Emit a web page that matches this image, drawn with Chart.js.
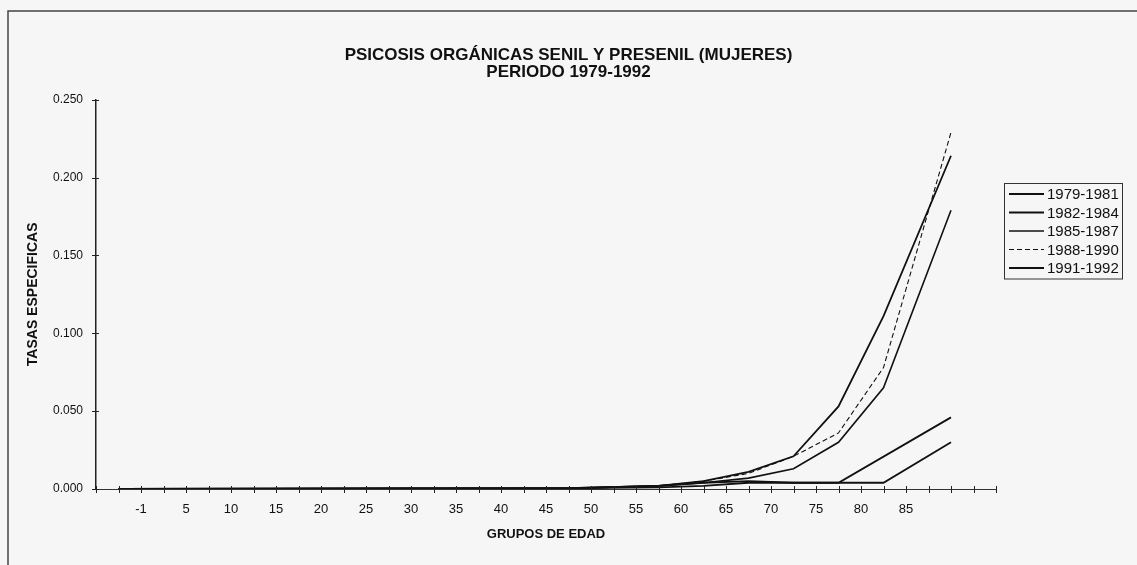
<!DOCTYPE html>
<html>
<head>
<meta charset="utf-8">
<script src="https://cdn.jsdelivr.net/npm/chart.js@4.4.0/dist/chart.umd.min.js"></script>
<style>
  html, body { margin: 0; padding: 0; background: #f6f6f6; }
  #wrap { width: 1137px; height: 565px; position: relative; }
</style>
</head>
<body>
<div id="wrap"><canvas id="chart"></canvas></div>
<script>
// age groups, one label every second category slot
const categories = ['', '', '-1', '', '5', '', '10', '', '15', '', '20', '', '25', '', '30', '', '35', '', '40', '', '45',
  '', '50', '', '55', '', '60', '', '65', '', '70', '', '75', '', '80', '', '85', '', '', '', ''];

const periods = ['1979-1981', '1982-1984', '1985-1987', '1988-1990', '1991-1992'];

const rates7981 = [null, 0, null, null, null, null, null, null, null, null, null, null, null, null, null, null, null, null, null, null, null,
  0.0005, null, null, null, 0.001, null, 0.002, null, 0.004, null, 0.004, null, 0.004, null, 0.004, null, null, 0.030, null, null];
const rates8284 = [null, 0, null, null, null, null, null, null, null, null, null, null, null, null, null, null, null, null, null, null, null,
  0.0005, null, null, null, 0.002, null, 0.004, null, 0.005, null, 0.004, null, 0.004, null, null, null, null, 0.046, null, null];
const rates8587 = [null, 0, null, null, null, null, null, null, null, null, null, null, null, null, null, null, null, null, null, null, null,
  0.0005, null, null, null, 0.002, null, 0.004, null, 0.007, null, 0.013, null, 0.030, null, 0.065, null, null, 0.179, null, null];
const rates8890 = [null, 0, null, null, null, null, null, null, null, null, null, null, null, null, null, null, null, null, null, null, null,
  0.0005, null, null, null, 0.002, null, 0.005, null, 0.010, null, 0.021, null, 0.036, null, 0.078, null, null, 0.229, null, null];
const rates9192 = [null, 0, null, null, null, null, null, null, null, null, null, null, null, null, null, null, null, null, null, null, null,
  0.0005, null, null, null, 0.002, null, 0.005, null, 0.011, null, 0.021, null, 0.053, null, 0.111, null, null, 0.214, null, null];

const yTicks = [0, 0.05, 0.10, 0.15, 0.20, 0.25];

const FONT = '"Liberation Sans", Arial, sans-serif';
const INK = '#111';

const series = [rates7981, rates8284, rates8587, rates8890, rates9192];
const dashes = [[], [], [], [5, 3], []];
const widths = [1.8, 1.8, 1.6, 1.1, 1.8];

const datasets = series.map((values, i) => ({
  label: periods[i],
  data: values,
  borderColor: INK,
  borderWidth: widths[i],
  borderDash: dashes[i],
  pointRadius: 0,
  tension: 0,
  spanGaps: true,
  fill: false
}));

// page background and the outer frame of the chart
const frame = {
  id: 'frame',
  beforeDraw(chart) {
    const ctx = chart.ctx;
    ctx.save();
    ctx.fillStyle = '#f6f6f6';
    ctx.fillRect(0, 0, chart.width, chart.height);
    ctx.strokeStyle = '#444';
    ctx.lineWidth = 1.5;
    ctx.beginPath();
    ctx.moveTo(8, chart.height);
    ctx.lineTo(8, 11);
    ctx.lineTo(chart.width, 11);
    ctx.stroke();
    ctx.restore();
  }
};

// tick marks that cross both axes
const crossTicks = {
  id: 'crossTicks',
  afterDraw(chart) {
    const ctx = chart.ctx;
    const x = chart.scales.x, y = chart.scales.y;
    ctx.save();
    ctx.strokeStyle = '#222';
    ctx.lineWidth = 1;
    ctx.beginPath();
    x.ticks.forEach((t, i) => {
      const px = Math.round(x.getPixelForTick(i)) + 0.5;
      ctx.moveTo(px, x.top - 3);
      ctx.lineTo(px, x.top + 4);
    });
    y.ticks.forEach((t, i) => {
      const py = Math.round(y.getPixelForTick(i)) + 0.5;
      ctx.moveTo(y.right - 4, py);
      ctx.lineTo(y.right + 3, py);
    });
    ctx.stroke();
    ctx.restore();
  }
};

// boxed legend beside the plot
const boxLegend = {
  id: 'boxLegend',
  afterDraw(chart) {
    const ctx = chart.ctx;
    const left = 1004, top = 183, rowH = 18.5;
    const n = chart.data.datasets.length;
    ctx.save();
    ctx.strokeStyle = '#333';
    ctx.lineWidth = 1;
    ctx.strokeRect(left + 0.5, top + 0.5, 118, n * rowH + 3);
    ctx.font = '15px ' + FONT;
    ctx.fillStyle = INK;
    ctx.textBaseline = 'middle';
    chart.data.datasets.forEach((ds, i) => {
      const cy = top + 11 + i * rowH;
      ctx.beginPath();
      ctx.setLineDash(ds.borderDash || []);
      ctx.lineWidth = ds.borderWidth;
      ctx.strokeStyle = ds.borderColor;
      ctx.moveTo(left + 5, cy);
      ctx.lineTo(left + 40, cy);
      ctx.stroke();
      ctx.setLineDash([]);
      ctx.fillText(ds.label, left + 43, cy + 1);
    });
    ctx.restore();
  }
};

new Chart(document.getElementById('chart'), {
  type: 'line',
  data: { labels: categories, datasets: datasets },
  options: {
    responsive: true,
    maintainAspectRatio: false,
    animation: false,
    layout: { padding: 0 },
    plugins: {
      legend: { display: false },
      tooltip: { enabled: false },
      title: {
        display: true,
        text: ['PSICOSIS ORGÁNICAS SENIL Y PRESENIL (MUJERES)', 'PERIODO 1979-1992'],
        color: INK,
        font: { family: FONT, size: 17, weight: 'bold', lineHeight: 1.05 },
        padding: { top: 46, bottom: 18 }
      }
    },
    scales: {
      x: {
        type: 'category',
        offset: false,
        border: { color: '#333', width: 1 },
        grid: { display: false, drawTicks: false },
        ticks: {
          autoSkip: false,
          maxRotation: 0,
          padding: 13,
          color: INK,
          font: { family: FONT, size: 13 }
        },
        title: {
          display: true,
          text: 'GRUPOS DE EDAD',
          color: INK,
          font: { family: FONT, size: 13, weight: 'bold' },
          padding: { top: 0, bottom: 23 }
        },
        afterFit(scale) { scale.height = 76; }
      },
      y: {
        min: 0,
        max: 0.25,
        border: { color: '#222', width: 1.5 },
        grid: { display: false, drawTicks: false },
        afterBuildTicks(scale) { scale.ticks = yTicks.map(v => ({ value: v })); },
        ticks: {
          padding: 13,
          color: INK,
          font: { family: FONT, size: 12 },
          callback: v => v.toFixed(3)
        },
        title: {
          display: true,
          text: 'TASAS ESPECIFICAS',
          color: INK,
          font: { family: FONT, size: 14, weight: 'bold' },
          padding: { top: 25, bottom: 0 }
        },
        afterFit(scale) { scale.width = 96; }
      },
      // keeps room on the right for the legend box
      spacer: {
        type: 'linear',
        position: 'right',
        display: true,
        grid: { display: false, drawTicks: false },
        border: { display: false },
        ticks: { display: false },
        afterFit(scale) { scale.width = 141; }
      }
    }
  },
  plugins: [frame, crossTicks, boxLegend]
});
</script>
</body>
</html>
